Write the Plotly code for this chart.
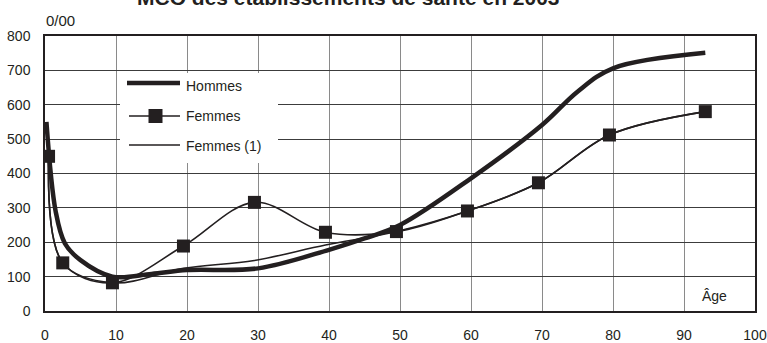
import plotly.graph_objects as go

# Ages (years) and rates (per thousand)
hommes_age = [0.2, 1.5, 2.8, 5, 9.5, 15, 20, 30, 40, 45, 50, 60, 70, 75, 80, 93]
hommes_taux = [550, 290, 197, 148, 100, 108, 119, 124, 178, 211, 250, 386, 541, 638, 706, 751]

femmes_age = [0.5, 2.5, 9.5, 19.5, 29.5, 39.5, 49.5, 59.5, 69.5, 79.5, 93]
femmes_taux = [450, 140, 82, 189, 316, 229, 231, 291, 373, 512, 580]
femmes1_taux = [450, 140, 82, 124, 147, 192, 231, 291, 373, 512, 580]

x_ticks = list(range(0, 101, 10))
y_ticks = list(range(0, 801, 100))

INK = "#231f20"
FONT = "Liberation Sans, Arial, sans-serif"

W, H = 767, 343
ML, MR, MT, MB = 45, 12, 36, 32
PW, PH = W - ML - MR, H - MT - MB


def px_x(px):
    return (px - ML) / PW


def px_y(py):
    return (H - MB - py) / PH


fig = go.Figure()

fig.add_trace(go.Scatter(
    x=femmes_age, y=femmes1_taux, mode="lines", name="Femmes (1)",
    line=dict(color=INK, width=1.6, shape="spline", smoothing=1),
    showlegend=False, hoverinfo="skip"))

fig.add_trace(go.Scatter(
    x=hommes_age, y=hommes_taux, mode="lines", name="Hommes",
    line=dict(color=INK, width=4.5, shape="spline", smoothing=1),
    showlegend=False, hoverinfo="skip"))

fig.add_trace(go.Scatter(
    x=femmes_age, y=femmes_taux, mode="lines+markers", name="Femmes",
    line=dict(color=INK, width=1.6, shape="spline", smoothing=1),
    marker=dict(symbol="square", size=13, color=INK),
    showlegend=False, hoverinfo="skip"))

shapes = [
    # legend panel
    dict(type="rect", xref="paper", yref="paper", layer="above",
         x0=px_x(120), x1=px_x(278), y0=px_y(163), y1=px_y(73),
         fillcolor="white", line=dict(width=0)),
    dict(type="line", xref="paper", yref="paper", layer="above",
         x0=px_x(127), x1=px_x(180), y0=px_y(83), y1=px_y(83),
         line=dict(color=INK, width=4.5)),
    dict(type="line", xref="paper", yref="paper", layer="above",
         x0=px_x(129), x1=px_x(180), y0=px_y(116), y1=px_y(116),
         line=dict(color=INK, width=1.6)),
    dict(type="rect", xref="paper", yref="paper", layer="above",
         x0=px_x(148.5), x1=px_x(162.5), y0=px_y(123), y1=px_y(109),
         fillcolor=INK, line=dict(width=0)),
    dict(type="line", xref="paper", yref="paper", layer="above",
         x0=px_x(129), x1=px_x(180), y0=px_y(145), y1=px_y(145),
         line=dict(color=INK, width=1.6)),
]

annotations = [
    dict(text="<b>MCO des établissements de santé en 2003</b>",
         xref="paper", yref="paper", x=px_x(348.5), y=px_y(11),
         xanchor="center", yanchor="bottom", showarrow=False,
         font=dict(family=FONT, size=21, color=INK)),
    dict(text="0/00", xref="paper", yref="paper", x=px_x(44), y=px_y(20),
         xanchor="left", yanchor="middle", showarrow=False,
         font=dict(family=FONT, size=15, color=INK)),
    dict(text="Âge", xref="paper", yref="paper", x=px_x(714.5), y=px_y(295.5),
         xanchor="center", yanchor="middle", showarrow=False,
         font=dict(family=FONT, size=14, color=INK)),
    dict(text="Hommes", xref="paper", yref="paper", x=px_x(184), y=px_y(86),
         xanchor="left", yanchor="middle", showarrow=False,
         font=dict(family=FONT, size=14, color=INK)),
    dict(text="Femmes", xref="paper", yref="paper", x=px_x(184), y=px_y(116),
         xanchor="left", yanchor="middle", showarrow=False,
         font=dict(family=FONT, size=14, color=INK)),
    dict(text="Femmes (1)", xref="paper", yref="paper", x=px_x(184), y=px_y(146),
         xanchor="left", yanchor="middle", showarrow=False,
         font=dict(family=FONT, size=14, color=INK)),
]

fig.update_layout(
    width=W, height=H, autosize=False,
    margin=dict(l=ML, r=MR, t=MT, b=MB, pad=0, autoexpand=False),
    paper_bgcolor="white", plot_bgcolor="white",
    font=dict(family=FONT, size=14, color=INK),
    showlegend=False,
    shapes=shapes, annotations=annotations,
    xaxis=dict(range=[0, 100], tickvals=x_ticks, ticktext=[str(v) for v in x_ticks],
               showgrid=True, gridcolor="#8a8a8a", gridwidth=1,
               showline=True, linecolor=INK, linewidth=1.5, mirror=True,
               zeroline=False, ticks="", ticklabelstandoff=10, automargin=False,
               tickfont=dict(family=FONT, size=14, color=INK), fixedrange=True),
    yaxis=dict(range=[0, 800], tickvals=y_ticks, ticktext=[str(v) for v in y_ticks],
               showgrid=True, gridcolor="#3c3c3c", gridwidth=1,
               showline=True, linecolor=INK, linewidth=1.5, mirror=True,
               zeroline=False, ticks="", ticklabelstandoff=10, automargin=False,
               tickfont=dict(family=FONT, size=14, color=INK), fixedrange=True),
)

fig.write_html("out.html")
